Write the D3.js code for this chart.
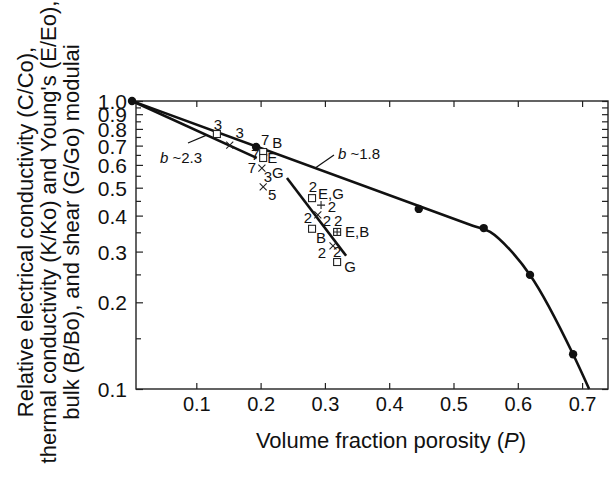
<!doctype html>
<html lang="en">
<head>
<meta charset="utf-8">
<title>Relative properties vs porosity</title>
<script src="https://cdn.jsdelivr.net/npm/d3@7"></script>
<style>
  body { margin: 0; background: #fff; }
  svg { display: block; font-family: "Liberation Sans", Arial, Helvetica, sans-serif; }
  .axis path { display: none; }
  .axis line { stroke: #222; stroke-width: 1.2px; }
  .axis text { font-size: 20px; fill: #111; }
  .axis.left text { font-size: 21px; }
  .lbl { font-size: 15px; fill: #111; }
</style>
</head>
<body>
<svg id="chart" width="615" height="485"></svg>
<script>
// fitted curve b ~1.8 (straight in log space, then bending down)
const fitP = [0, 0.530, 0.557, 0.588, 0.619, 0.686, 0.711];
const fitV = [1.0, 0.369, 0.351, 0.304, 0.249, 0.132, 0.1];
// filled circles
const dotP = [0, 0.193, 0.446, 0.547, 0.619, 0.686];
const dotV = [1.0, 0.692, 0.422, 0.362, 0.249, 0.132];
// b ~2.3 line and the steep line
const lowP = [0, 0.194];
const lowV = [1.0, 0.634];
const steepP = [0.241, 0.333];
const steepV = [0.54, 0.29];

// literature points, with their reference numbers / property letters
const sqP = [0.132, 0.204, 0.204, 0.280, 0.280, 0.319];
const sqV = [0.768, 0.665, 0.634, 0.460, 0.360, 0.276];
const sqText = [["3"], ["7", "B"], ["7", "E"], ["2", "E,G"], ["2", "B"], ["2", "G"]];
const crossP = [0.152, 0.202, 0.204, 0.289, 0.3126];
const crossV = [0.703, 0.585, 0.503, 0.402, 0.314];
const crossText = [["3"], ["7", "3", "G"], ["5"], ["2"], ["2"]];
const plusP = [0.294];
const plusV = [0.435];
const plusText = [["2"]];
const boxP = [0.319];
const boxV = [0.351];
const boxText = [["2", "E,B"]];

const xTicks = [0.1, 0.2, 0.3, 0.4, 0.5, 0.6, 0.7];
const yMajor = [0.1, 0.2, 0.3, 0.4, 0.5, 0.6, 0.7, 0.8, 0.9, 1.0];
const yMinor = [0.15, 0.25, 0.35, 0.45, 0.55, 0.65, 0.75, 0.85, 0.95];

// label placement (dx, dy from marker, anchor) - layout only
const sqOff = [[[1, -4, "middle"]], [[2, -7, "middle"], [14, -4, "middle"]], [[-8, 2, "middle"], [9, 5, "middle"]],
  [[1, -6, "middle"], [6, 1, "start"]], [[-4, -6, "middle"], [9, 14, "middle"]], [[0, -5, "middle"], [13, 10, "middle"]]];
const crossOff = [[[10, -7, "middle"]], [[-10, 5, "middle"], [6, 14, "middle"], [16, 10, "middle"]],
  [[9, 13, "middle"]], [[9, 11, "middle"]], [[-11, 12, "middle"]]];
const plusOff = [[[11, 7, "middle"]]];
const boxOff = [[[1, -6, "middle"], [8, 5, "start"]]];

const svg = d3.select("#chart");
const L = 136, R = 608, T = 101, B = 389;
const x = d3.scaleLinear().domain([0.0062, 0.7403]).range([L, R]);
const y = d3.scaleLog().domain([0.1, 1]).range([B, T]);

// axes with inward ticks
svg.append("g").attr("class", "axis").attr("transform", `translate(0,${B})`)
  .call(d3.axisBottom(x).tickValues(xTicks).tickSize(-6).tickPadding(8).tickFormat(d3.format(".1f")));
svg.append("g").attr("class", "axis").attr("transform", `translate(0,${T})`)
  .call(d3.axisTop(x).tickValues(xTicks).tickSize(-6).tickFormat(""));
svg.append("g").attr("class", "axis left").attr("transform", `translate(${L},0)`)
  .call(d3.axisLeft(y).tickValues(yMajor).tickSize(-7).tickPadding(9).tickFormat(d3.format(".1f")))
  .selectAll("text").attr("dy", "0.36em");
svg.append("g").attr("class", "axis").attr("transform", `translate(${L},0)`)
  .call(d3.axisLeft(y).tickValues(yMinor).tickSize(-5).tickFormat(""));
svg.append("g").attr("class", "axis").attr("transform", `translate(${R},0)`)
  .call(d3.axisRight(y).tickValues(yMajor.concat(yMinor)).tickSize(-6).tickFormat(""));

svg.append("rect").attr("x", L).attr("y", T).attr("width", R - L).attr("height", B - T)
  .attr("fill", "none").attr("stroke", "#222").attr("stroke-width", 1.4);

// lines
const pts = (ps, vs) => ps.map((p, i) => [x(p), y(vs[i])]);
const line = d3.line().curve(d3.curveMonotoneX);
[[fitP, fitV], [lowP, lowV], [steepP, steepV]].forEach(([ps, vs]) => {
  svg.append("path").attr("d", line(pts(ps, vs))).attr("fill", "none")
    .attr("stroke", "#111").attr("stroke-width", 2.6);
});

// filled circles
svg.selectAll("circle.dot").data(dotP).enter().append("circle").attr("class", "dot")
  .attr("cx", d => x(d)).attr("cy", (d, i) => y(dotV[i])).attr("r", 4.2).attr("fill", "#111");

// markers
const mk = { fill: "#fff", stroke: "#222", sw: 1.1 };
function addLabels(ps, vs, texts, offs) {
  ps.forEach((p, i) => {
    texts[i].forEach((t, j) => {
      const [dx, dy, anchor] = offs[i][j];
      svg.append("text").attr("class", "lbl").attr("x", x(p) + dx).attr("y", y(vs[i]) + dy)
        .attr("text-anchor", anchor).text(t);
    });
  });
}
const g = svg.append("g");
sqP.forEach((p, i) => {
  g.append("rect").attr("x", x(p) - 3.5).attr("y", y(sqV[i]) - 3.5).attr("width", 7).attr("height", 7)
    .attr("fill", mk.fill).attr("stroke", mk.stroke).attr("stroke-width", mk.sw);
});
crossP.forEach((p, i) => {
  const cx = x(p), cy = y(crossV[i]), h = 3.5;
  g.append("path").attr("d", `M${cx - h},${cy - h}L${cx + h},${cy + h}M${cx - h},${cy + h}L${cx + h},${cy - h}`)
    .attr("stroke", mk.stroke).attr("stroke-width", mk.sw);
});
plusP.forEach((p, i) => {
  const cx = x(p), cy = y(plusV[i]), h = 4;
  g.append("path").attr("d", `M${cx - h},${cy}L${cx + h},${cy}M${cx},${cy - h}L${cx},${cy + h}`)
    .attr("stroke", mk.stroke).attr("stroke-width", mk.sw);
});
boxP.forEach((p, i) => {
  const cx = x(p), cy = y(boxV[i]), h = 3.5;
  g.append("rect").attr("x", cx - h).attr("y", cy - h).attr("width", 2 * h).attr("height", 2 * h)
    .attr("fill", mk.fill).attr("stroke", mk.stroke).attr("stroke-width", mk.sw);
  g.append("path").attr("d", `M${cx - h},${cy}L${cx + h},${cy}M${cx},${cy - h}L${cx},${cy + h}`)
    .attr("stroke", mk.stroke).attr("stroke-width", mk.sw);
});
addLabels(sqP, sqV, sqText, sqOff);
addLabels(crossP, crossV, crossText, crossOff);
addLabels(plusP, plusV, plusText, plusOff);
addLabels(boxP, boxV, boxText, boxOff);

// b annotations with leaders
function bNote(tx, ty, value, lx1, ly1, lx2, ly2) {
  svg.append("line").attr("x1", lx1).attr("y1", ly1).attr("x2", lx2).attr("y2", ly2)
    .attr("stroke", "#111").attr("stroke-width", 1.2);
  const t = svg.append("text").attr("class", "lbl").attr("x", tx).attr("y", ty);
  t.append("tspan").attr("font-style", "italic").text("b");
  t.append("tspan").text(" ~" + value);
}
bNote(160, 163, "2.3", 188, 143, x(0.116), y(Math.pow(lowV[1], 0.116 / lowP[1])));
bNote(338, 159, "1.8", x(0.285), y(Math.pow(fitV[2], 0.285 / fitP[2])), 334, 155);

// axis titles
svg.append("text").attr("x", 391).attr("y", 448).attr("text-anchor", "middle")
  .attr("font-size", 22).attr("fill", "#111")
  .html('Volume fraction porosity (<tspan font-style="italic">P</tspan>)');
const yTitle = ["Relative electrical conductivity (C/Co),",
  "thermal conductivity (K/Ko) and Young's (E/Eo),",
  "bulk (B/Bo), and shear (G/Go) modulai"];
yTitle.forEach((t, i) => {
  svg.append("text").attr("transform", `translate(${33 + i * 23},232) rotate(-90)`)
    .attr("text-anchor", "middle").attr("font-size", 22).attr("fill", "#111").text(t);
});
</script>
</body>
</html>
